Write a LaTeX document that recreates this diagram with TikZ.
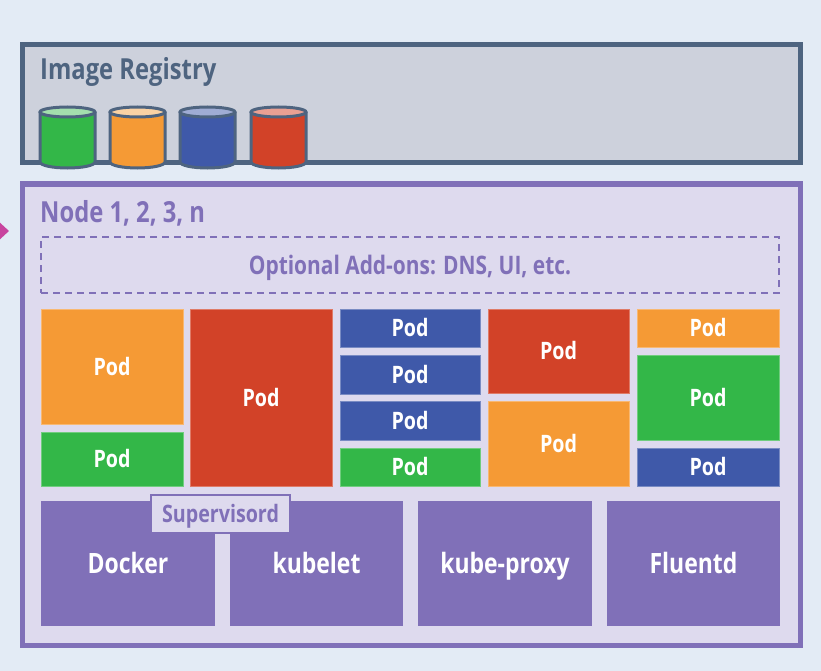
\documentclass[tikz,border=0pt]{standalone}
\usepackage{fontspec}
\setmainfont[FakeStretch=0.82]{Open Sans}
\usepackage{tikz}
\usetikzlibrary{arrows.meta,positioning,shapes.geometric,calc}
\definecolor{bgblue}{HTML}{E3EBF5}
\definecolor{slate}{HTML}{4E6480}
\definecolor{regfill}{HTML}{CDD1DC}
\definecolor{nodepurple}{HTML}{8070B8}
\definecolor{nodefill}{HTML}{DEDAEE}
\definecolor{podgreen}{HTML}{33B748}
\definecolor{podorange}{HTML}{F59A35}
\definecolor{podred}{HTML}{D24228}
\definecolor{podblue}{HTML}{3F59A9}
\definecolor{arrowpink}{HTML}{C8449E}

\tikzset{
  box/.style={anchor=north west,inner sep=0pt,outer sep=0pt},
  pod/.style={box,draw=white!30!#1,line width=0.6pt,fill=#1,text=white,
    font=\bfseries\fontsize{24}{26}\selectfont,text height=17pt,text depth=0pt},
  svc/.style={box,fill=nodepurple,text=white,
    font=\bfseries\fontsize{28}{30}\selectfont,text height=20pt,text depth=0pt},
  title/.style={anchor=west,inner sep=0pt,font=\bfseries\fontsize{29}{31}\selectfont},
}
% cylinder for the image registry
\newcommand{\imgcyl}[3]{%
  \fill[#2] (#1,112) -- (#1,162) arc[start angle=180,end angle=0,x radius=27.5,y radius=6]
    -- (#1+55,112) -- cycle;
  \fill[#3] (#1+27.5,112) ellipse[x radius=27.5,y radius=5];
  \draw[slate,line width=3pt] (#1,112) -- (#1,162)
    arc[start angle=180,end angle=0,x radius=27.5,y radius=6] -- (#1+55,112);
  \draw[slate,line width=3pt] (#1+27.5,112) ellipse[x radius=27.5,y radius=5];
}

\begin{document}
\begin{tikzpicture}[x=1pt,y=-1pt]
  \useasboundingbox[fill=bgblue] (0,0) rectangle (821,671);

  % image registry
  \node[box,draw=slate,fill=regfill,line width=5pt,minimum width=778,minimum height=118]
    (reg) at (22,45) {};
  \node[title,text=slate] (regtitle) at (40,72) {Image Registry};
  \imgcyl{40}{podgreen}{podgreen!45!white}
  \imgcyl{110}{podorange}{podorange!45!white}
  \imgcyl{180}{podblue}{podblue!50!white}
  \imgcyl{251}{podred}{podred!50!white}

  % worker node
  \node[box,draw=nodepurple,fill=nodefill,line width=5pt,minimum width=778,minimum height=461]
    (node) at (22,184) {};
  \node[title,text=nodepurple] (nodetitle) at (40,213) {Node 1, 2, 3, n};
  \coordinate (a0) at (-12,231);
  \coordinate (a1) at (9,231);
  \draw[arrowpink,line width=3pt,-{Triangle[length=9pt,width=16pt]}] (a0) -- (a1);

  \node[box,draw=nodepurple,dashed,dash pattern=on 7pt off 5pt,line width=2.5pt,
    minimum width=738,minimum height=56] (addons) at (41,237) {};
  \node[text=nodepurple,font=\bfseries\fontsize{25.5}{27}\selectfont,text height=18pt,
    text depth=0pt] at (addons.center) {Optional Add-ons: DNS, UI, etc.};

  % pods
  \node[pod=podorange,minimum width=142,minimum height=115] (p11) at (41,309) {Pod};
  \node[pod=podgreen,minimum width=142,minimum height=54] (p12) at (41,432) {Pod};
  \node[pod=podred,minimum width=142,minimum height=177] (p21) at (190,309) {Pod};
  \node[pod=podblue,minimum width=140,minimum height=38] (p31) at (340,309) {Pod};
  \node[pod=podblue,minimum width=140,minimum height=39] (p32) at (340,355) {Pod};
  \node[pod=podblue,minimum width=140,minimum height=39] (p33) at (340,401) {Pod};
  \node[pod=podgreen,minimum width=140,minimum height=38] (p34) at (340,448) {Pod};
  \node[pod=podred,minimum width=141,minimum height=84] (p41) at (488,309) {Pod};
  \node[pod=podorange,minimum width=141,minimum height=85] (p42) at (488,401) {Pod};
  \node[pod=podorange,minimum width=142,minimum height=38] (p51) at (637,309) {Pod};
  \node[pod=podgreen,minimum width=142,minimum height=85] (p52) at (637,355) {Pod};
  \node[pod=podblue,minimum width=142,minimum height=38] (p53) at (637,448) {Pod};

  % node services
  \node[svc,minimum width=174,minimum height=125] (docker) at (41,501) {Docker};
  \node[svc,minimum width=173,minimum height=125] (kubelet) at (230,501) {kubelet};
  \node[svc,minimum width=174,minimum height=125] (proxy) at (418,501) {kube-proxy};
  \node[svc,minimum width=173,minimum height=125] (fluentd) at (607,501) {Fluentd};
  \node[box,draw=nodepurple,fill=nodefill,line width=2pt,minimum width=139,minimum height=38,
    text=nodepurple,font=\bfseries\fontsize{24}{26}\selectfont,text height=17pt,
    text depth=0pt] (supervisord) at (151,495) {Supervisord};
\end{tikzpicture}
\end{document}
